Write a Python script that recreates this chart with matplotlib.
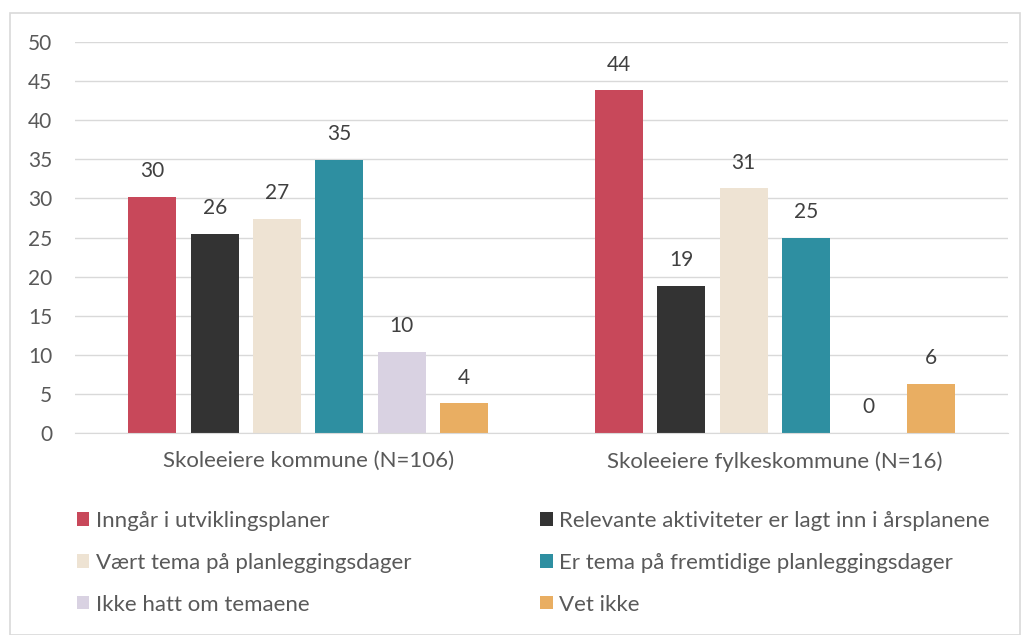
import matplotlib
matplotlib.use("Agg")
import matplotlib.pyplot as plt
from matplotlib.patches import Rectangle
import numpy as np

plt.rcParams["font.family"] = ["Lato", "DejaVu Sans"]

categories = ["Skoleeiere kommune (N=106)", "Skoleeiere fylkeskommune (N=16)"]
series = [
    "Inngår i utviklingsplaner",
    "Relevante aktiviteter er lagt inn i årsplanene",
    "Vært tema på planleggingsdager",
    "Er tema på fremtidige planleggingsdager",
    "Ikke hatt om temaene",
    "Vet ikke",
]
values = [
    [30.2, 43.8],
    [25.5, 18.8],
    [27.4, 31.3],
    [34.9, 25.0],
    [10.4, 0.0],
    [3.8, 6.3],
]
colors = ["#C8485A", "#333333", "#EEE3D3", "#2E8FA1", "#D9D2E2", "#E9AE62"]
text_color = "#595959"

fig = plt.figure(figsize=(10.25, 6.35), dpi=100)
fig.patches.append(Rectangle((10 / 1025, 0.0), 1010 / 1025, 1 - 13 / 635,
                             transform=fig.transFigure, fill=False,
                             edgecolor="#D9D9D9", linewidth=1.2))
ax = fig.add_axes([75 / 1025, 1 - 433 / 635, 933 / 1025, 391 / 635])

x = np.arange(len(categories))
width = 0.103
step = 0.1336
offsets = (np.arange(len(series)) - (len(series) - 1) / 2) * step
for i, (name, vals) in enumerate(zip(series, values)):
    bars = ax.bar(x + offsets[i], vals, width, color=colors[i], label=name, zorder=3)
    for bar, v in zip(bars, vals):
        ax.text(bar.get_x() + bar.get_width() / 2, v + 2.0, f"{v:.0f}",
                ha="center", va="bottom", fontsize=15, color="#404040")

ax.set_xlim(-0.5, 1.5)
ax.set_ylim(0, 50)
ax.set_yticks(range(0, 51, 5))
ax.set_xticks(x)
ax.set_xticklabels(categories, fontsize=16)
ax.tick_params(axis="both", length=0, colors=text_color)
ax.tick_params(axis="y", labelsize=15, pad=16.5)
ax.tick_params(axis="x", pad=13)
ax.grid(axis="y", color="#D9D9D9", linewidth=1, zorder=0)
for side in ["top", "right", "left"]:
    ax.spines[side].set_visible(False)
ax.spines["bottom"].set_color("#D9D9D9")
ax.spines["bottom"].set_zorder(4)

# legend reads row by row in the reference, matplotlib fills column by column
handles, labels = ax.get_legend_handles_labels()
order = [0, 2, 4, 1, 3, 5]
fig.legend([handles[k] for k in order], [labels[k] for k in order],
           ncol=2, loc="upper left",
           bbox_to_anchor=(57 / 1025, 1 - 491 / 635), frameon=False,
           fontsize=16, labelcolor=text_color, handlelength=0.55,
           handleheight=0.55, handletextpad=0.3, columnspacing=5.8,
           labelspacing=0.98)

fig.savefig("out.png", dpi=100)
